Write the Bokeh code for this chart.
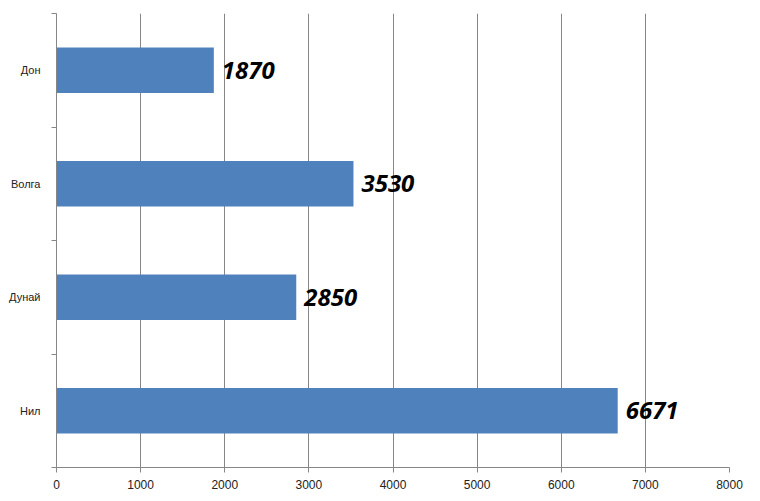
from bokeh.plotting import figure
from bokeh.models import FixedTicker, Range1d, ColumnDataSource
from bokeh.core.properties import value
from bokeh.embed import file_html
from bokeh.resources import INLINE

# rivers, top to bottom as in the picture
rivers = ["Дон", "Волга", "Дунай", "Нил"]
lengths = [1870, 3530, 2850, 6671]
x_ticks = [0, 1000, 2000, 3000, 4000, 5000, 6000, 7000, 8000]

n = len(rivers)
ypos = [n - i - 0.5 for i in range(n)]

src = ColumnDataSource(dict(y=ypos, v=lengths, lbl=[str(v) for v in lengths]))

p = figure(width=752, height=493, output_backend="svg", toolbar_location=None,
           x_range=Range1d(0, 8000), y_range=Range1d(0, n),
           min_border_left=56, min_border_right=23, min_border_top=13, min_border_bottom=26)
p.outline_line_color = None
p.background_fill_color = "white"

p.hbar(y="y", right="v", left=0, height=0.4, source=src,
       fill_color="#4F81BD", line_color=None)

p.text(x="v", y="y", text="lbl", source=src, x_offset=8,
       text_font=value("Open Sans"), text_font_style="bold italic",
       text_font_size="24px", text_color="black",
       text_baseline="middle", text_align="left")

# x axis
p.xaxis.ticker = FixedTicker(ticks=x_ticks)
p.xaxis.axis_line_color = "#868686"
p.xaxis.major_tick_line_color = "#868686"
p.xaxis.major_tick_out = 5
p.xaxis.major_tick_in = 0
p.xaxis.minor_tick_line_color = None
p.xaxis.major_label_standoff = 7
p.xaxis.major_label_text_font = "Liberation Sans"
p.xaxis.major_label_text_font_size = "12px"
p.xaxis.major_label_text_color = "#222222"

# y axis: names at band centres, ticks at band edges
p.yaxis.ticker = FixedTicker(ticks=ypos, minor_ticks=list(range(n + 1)))
p.yaxis.major_label_overrides = {y: r for y, r in zip(ypos, rivers)}
p.yaxis.axis_line_color = "#868686"
p.yaxis.major_tick_line_color = None
p.yaxis.minor_tick_line_color = "#868686"
p.yaxis.minor_tick_out = 5
p.yaxis.minor_tick_in = 0
p.yaxis.major_label_standoff = 10
p.yaxis.major_label_text_font = "Liberation Sans"
p.yaxis.major_label_text_font_size = "11px"
p.yaxis.major_label_text_color = "#222222"

p.xgrid.grid_line_color = "#868686"
p.xgrid.grid_line_width = 1
p.ygrid.grid_line_color = None

open("out.html", "w").write(file_html(p, INLINE))
